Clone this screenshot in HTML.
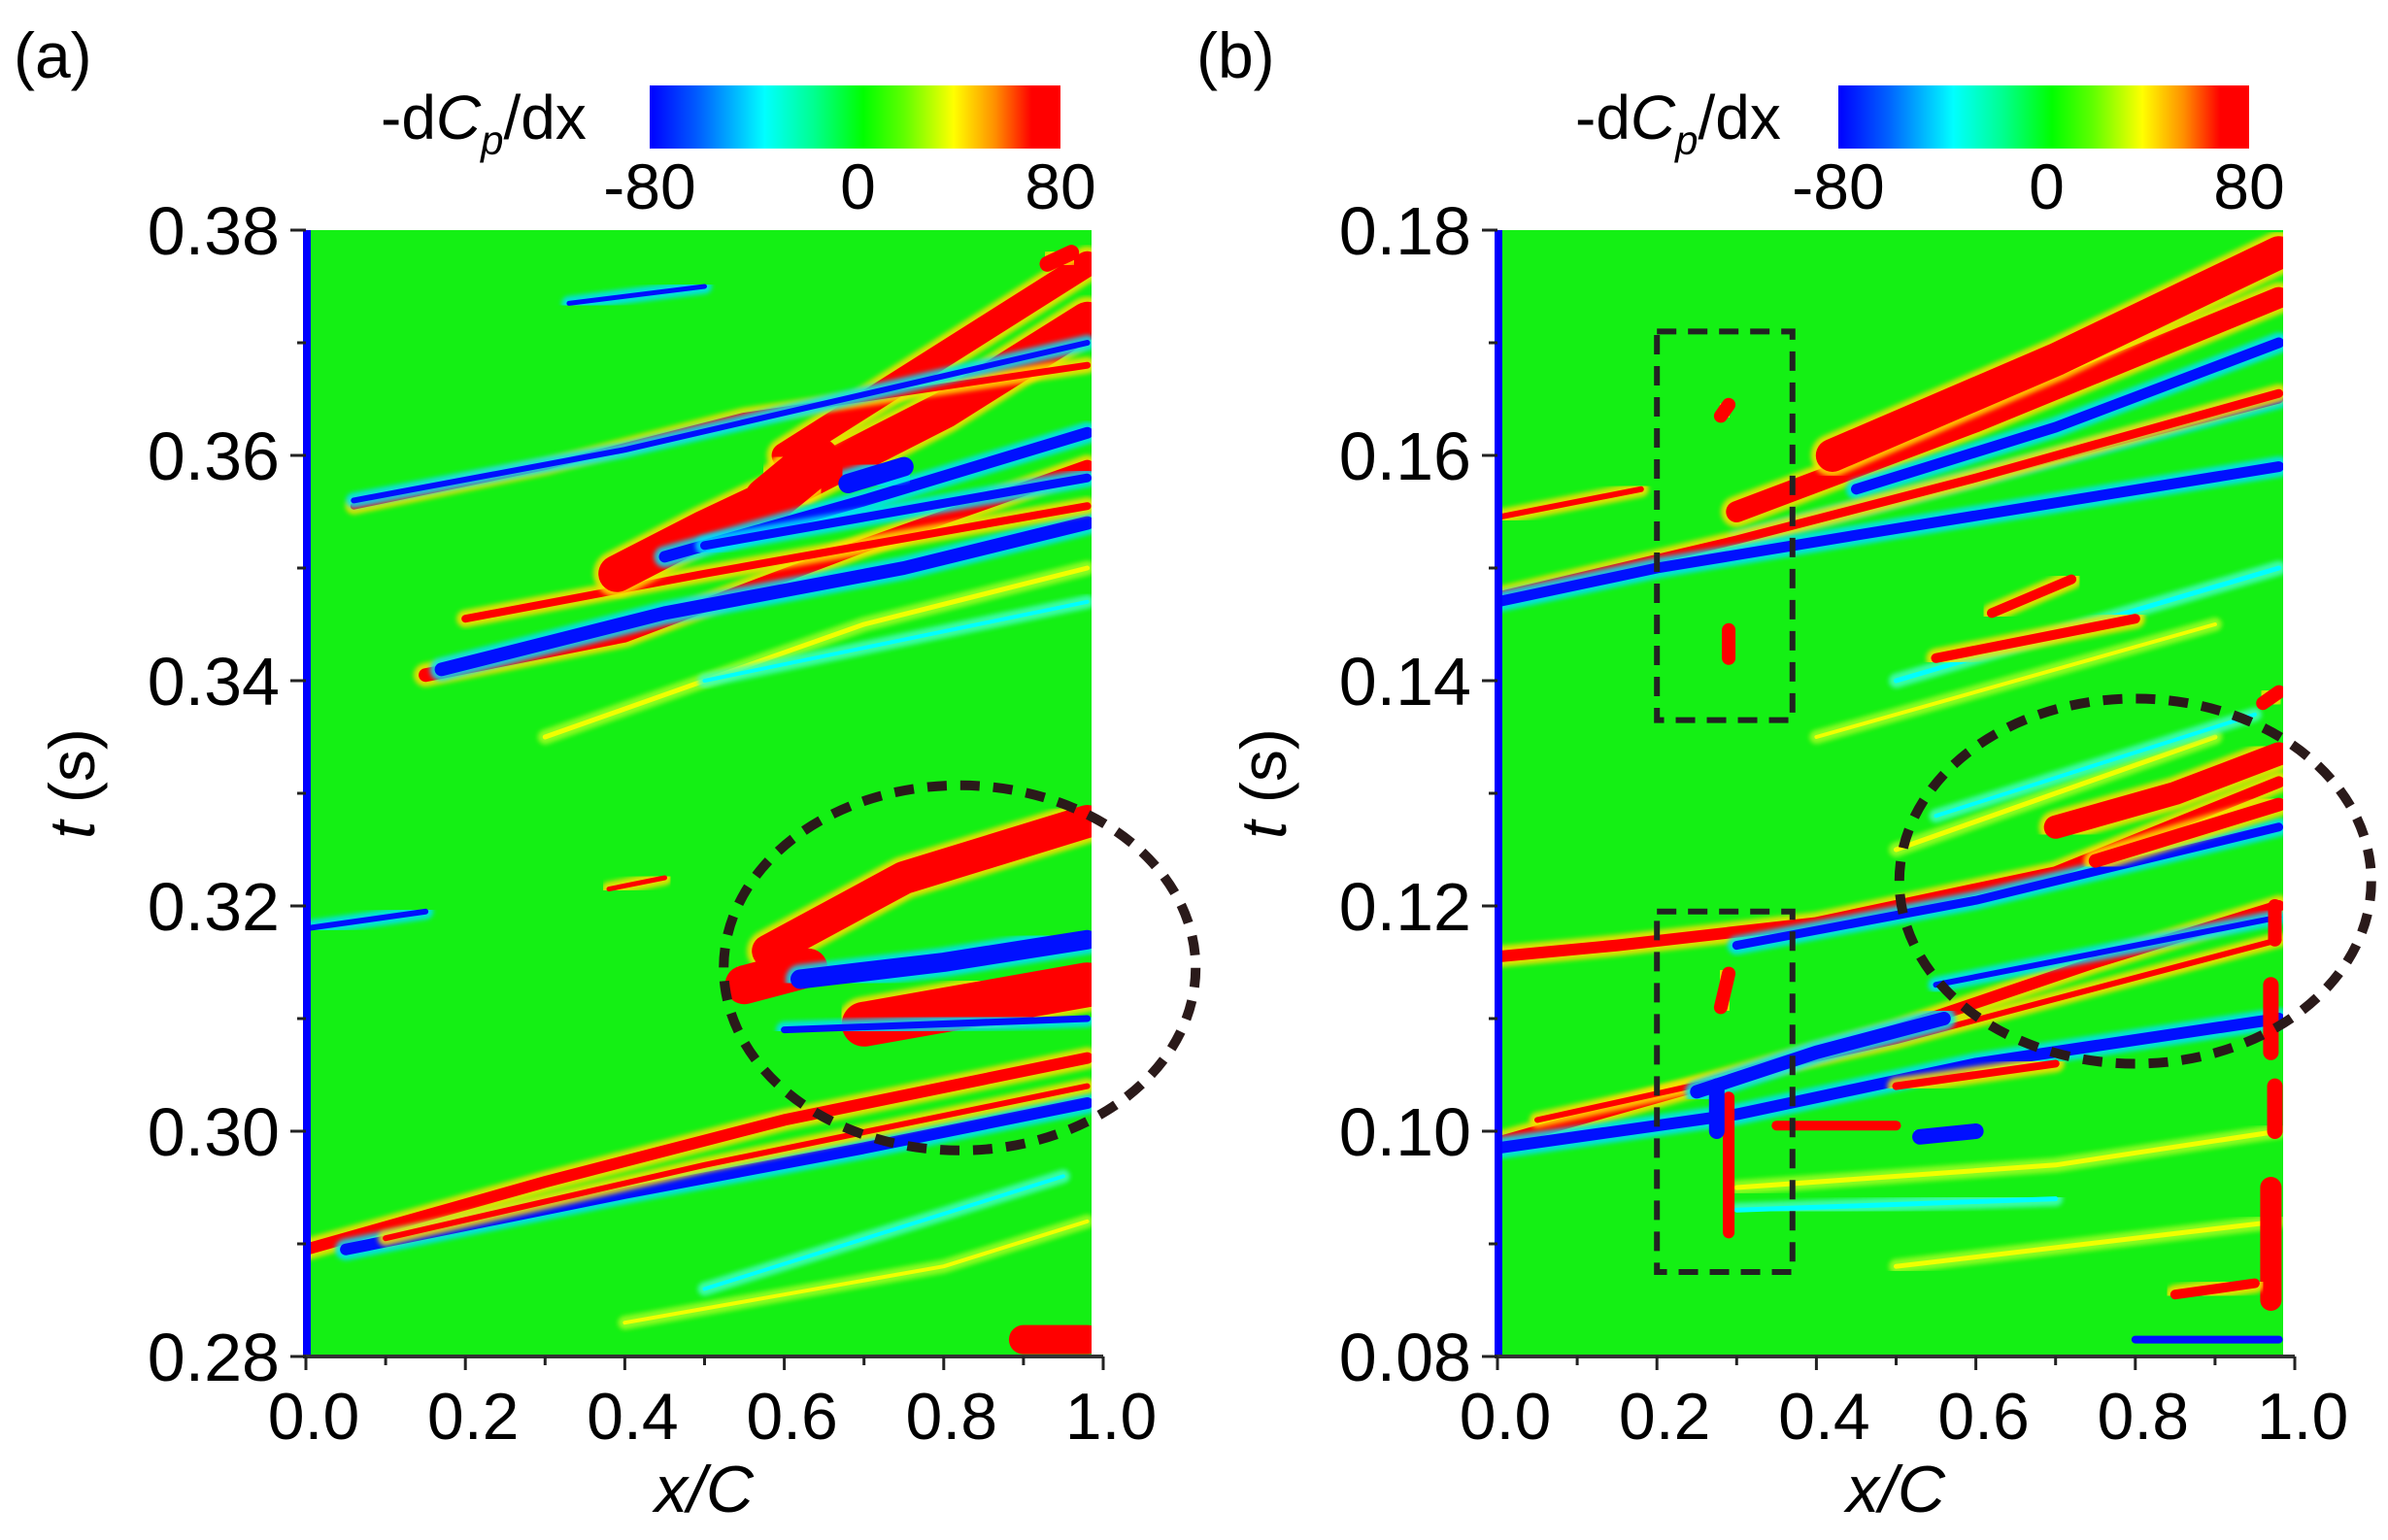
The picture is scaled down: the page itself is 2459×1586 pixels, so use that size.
<!DOCTYPE html>
<html><head><meta charset="utf-8"><style>
html,body{margin:0;padding:0;background:#fff;}
svg{display:block;}
text{font-family:"Liberation Sans",sans-serif;fill:#000;}
</style></head><body>
<svg id="fig" width="2459" height="1586" viewBox="0 0 2459 1586" xmlns="http://www.w3.org/2000/svg">
<defs>
<linearGradient id="cmap" x1="0" x2="1" y1="0" y2="0">
<stop offset="0" stop-color="#0000ff"/><stop offset="0.12" stop-color="#0060ff"/>
<stop offset="0.28" stop-color="#00ffff"/><stop offset="0.4" stop-color="#00ff90"/>
<stop offset="0.52" stop-color="#00ff00"/><stop offset="0.62" stop-color="#60ff00"/>
<stop offset="0.74" stop-color="#ffff00"/><stop offset="0.84" stop-color="#ff9000"/>
<stop offset="0.93" stop-color="#ff0000"/><stop offset="1" stop-color="#ff0000"/>
</linearGradient>
<clipPath id="clipA"><rect x="320" y="237" width="804" height="1160"/></clipPath>
<clipPath id="clipB"><rect x="1547" y="237" width="804" height="1160"/></clipPath>
<filter id="soft"><feGaussianBlur stdDeviation="2.5"/></filter>
</defs>
<g id="root"></g>
</svg>
<script>
// ---- data ----
const xTicks = [0.0, 0.2, 0.4, 0.6, 0.8, 1.0];
const xTickLabels = ["0.0", "0.2", "0.4", "0.6", "0.8", "1.0"];
const tTicksA = [0.28, 0.30, 0.32, 0.34, 0.36, 0.38];
const tTicksB = [0.08, 0.10, 0.12, 0.14, 0.16, 0.18];
const cbarTicks = [-80, 0, 80];
// streaks: [color, widthPx, points [x/C, t]]
const streaksA = [
 ["y",5,[[0.3,0.335],[0.7,0.345],[0.98,0.35]]],
 ["c",4,[[0.5,0.340],[0.98,0.347]]],
 ["y",4,[[0.4,0.283],[0.8,0.288],[0.98,0.292]]],
 ["c",4,[[0.5,0.286],[0.95,0.296]]],
 ["r",14,[[0.15,0.3405],[0.4,0.344],[0.7,0.352],[0.98,0.359]]],
 ["b",14,[[0.17,0.341],[0.45,0.346],[0.75,0.350],[0.98,0.354]]],
 ["r",8,[[0.2,0.3455],[0.5,0.3495],[0.98,0.3555]]],
 ["r",38,[[0.39,0.3495],[0.5,0.3535],[0.62,0.3575],[0.8,0.364],[0.98,0.372]]],
 ["r",26,[[0.6,0.36],[0.98,0.377]]],
 ["r",50,[[0.58,0.356],[0.64,0.3595]]],
 ["b",12,[[0.45,0.351],[0.7,0.356],[0.98,0.362]]],
 ["b",20,[[0.68,0.3575],[0.75,0.359]]],
 ["b",9,[[0.5,0.352],[0.98,0.358]]],
 ["r",7,[[0.06,0.3555],[0.3,0.359],[0.55,0.3635],[0.98,0.368]]],
 ["b",6,[[0.06,0.356],[0.4,0.3605],[0.98,0.370]]],
 ["b",5,[[0.33,0.3735],[0.5,0.375]]],
 ["r",16,[[0.93,0.377],[0.96,0.378]]],
 ["b",6,[[0.0,0.318],[0.15,0.3195]]],
 ["r",5,[[0.38,0.3215],[0.45,0.3225]]],
 ["r",12,[[0.0,0.2895],[0.3,0.2955],[0.6,0.301],[0.98,0.3065]]],
 ["b",12,[[0.05,0.2895],[0.4,0.2945],[0.7,0.2985],[0.98,0.3025]]],
 ["r",6,[[0.1,0.2905],[0.5,0.297],[0.98,0.304]]],
 ["r",46,[[0.7,0.3095],[0.98,0.313]]],
 ["r",34,[[0.58,0.316],[0.75,0.3225],[0.98,0.3275]]],
 ["r",40,[[0.55,0.313],[0.63,0.3145]]],
 ["b",20,[[0.62,0.3135],[0.8,0.315],[0.98,0.317]]],
 ["b",7,[[0.6,0.309],[0.98,0.310]]],
 ["r",30,[[0.9,0.2815],[0.98,0.2815]]]
];
const streaksB = [
 ["y",5,[[0.3,0.095],[0.7,0.097],[0.98,0.1]]],
 ["c",5,[[0.3,0.093],[0.7,0.094]]],
 ["y",5,[[0.5,0.125],[0.9,0.135]]],
 ["c",4,[[0.55,0.128],[0.95,0.137]]],
 ["y",4,[[0.4,0.135],[0.9,0.145]]],
 ["c",5,[[0.5,0.14],[0.98,0.150]]],
 ["y",5,[[0.5,0.088],[0.98,0.092]]],
 ["r",22,[[0.3,0.155],[0.6,0.163],[0.98,0.174]]],
 ["r",34,[[0.42,0.160],[0.7,0.1685],[0.98,0.178]]],
 ["b",11,[[0.45,0.157],[0.7,0.1625],[0.98,0.170]]],
 ["b",9,[[0.3,0.1525],[0.98,0.165]]],
 ["r",9,[[0.0,0.1475],[0.3,0.1525],[0.6,0.158],[0.98,0.1655]]],
 ["b",11,[[0.0,0.147],[0.2,0.150],[0.5,0.1535],[0.98,0.159]]],
 ["r",6,[[0.0,0.1545],[0.18,0.157]]],
 ["r",14,[[0.28,0.1635],[0.29,0.1645]]],
 ["r",14,[[0.29,0.142],[0.29,0.1445]]],
 ["r",10,[[0.62,0.146],[0.72,0.149]]],
 ["r",10,[[0.55,0.142],[0.8,0.1455]]],
 ["r",14,[[0.96,0.138],[0.98,0.139]]],
 ["r",12,[[0.0,0.099],[0.25,0.104],[0.5,0.109],[0.75,0.115],[0.98,0.120]]],
 ["b",12,[[0.0,0.0985],[0.3,0.1015],[0.6,0.106],[0.98,0.110]]],
 ["r",6,[[0.05,0.101],[0.5,0.108],[0.98,0.117]]],
 ["r",12,[[0.0,0.1155],[0.15,0.1165],[0.4,0.1185],[0.7,0.123],[0.98,0.131]]],
 ["b",9,[[0.3,0.1165],[0.6,0.1205],[0.98,0.127]]],
 ["r",24,[[0.7,0.127],[0.85,0.130],[0.98,0.1335]]],
 ["r",14,[[0.75,0.124],[0.98,0.129]]],
 ["b",14,[[0.25,0.1035],[0.4,0.107],[0.56,0.110]]],
 ["r",10,[[0.35,0.1005],[0.5,0.1005]]],
 ["b",16,[[0.53,0.0995],[0.6,0.1]]],
 ["r",8,[[0.5,0.104],[0.7,0.106]]],
 ["b",6,[[0.55,0.113],[0.98,0.119]]],
 ["r",12,[[0.29,0.091],[0.29,0.103]]],
 ["r",14,[[0.28,0.111],[0.29,0.114]]],
 ["b",16,[[0.275,0.100],[0.275,0.104]]],
 ["r",22,[[0.97,0.085],[0.97,0.095]]],
 ["r",16,[[0.975,0.10],[0.975,0.104]]],
 ["r",16,[[0.97,0.107],[0.97,0.113]]],
 ["r",14,[[0.975,0.117],[0.975,0.12]]],
 ["b",8,[[0.8,0.0815],[0.98,0.0815]]],
 ["r",10,[[0.85,0.0855],[0.95,0.0865]]]
];
// ---- drawing ----
const NS="http://www.w3.org/2000/svg";
const root=document.getElementById('root');
function mk(tag,attrs,parent){const e=document.createElementNS(NS,tag);for(const k in attrs)e.setAttribute(k,attrs[k]);(parent||root).appendChild(e);return e;}
const COL={r:['#ff0000','#ffe000'],b:['#0010ff','#00e0ff'],y:['#f0ff00','#a0ff20'],c:['#00ffff','#40ffc0']};
const Y0=1397,Y1=237,XW=821;
function panel(px0,tMin,tMax,ticks,streaks,clip,label,lx,cbx,cbLabelX,pname){
 const X=v=>px0+v*XW;
 const Y=t=>Y0+(t-tMin)/(tMax-tMin)*(Y1-Y0);
 const g=mk('g',{});
 
 
 const bg=mk('rect',{x:px0,y:Y1,width:809,height:Y0-Y1,fill:'#14f014'},g);
 
 
 const hg=mk('g',{'clip-path':'url(#'+clip+')'},g);
 
 
 streaks.forEach(s=>{
  const pts=s[2].map(p=>X(p[0]).toFixed(1)+','+Y(p[1]).toFixed(1)).join(' ');
  const c=COL[s[0]];
  const halo=mk('polyline',{points:pts,fill:'none',stroke:c[1],'stroke-width':s[1]+10,'stroke-linecap':'round','stroke-linejoin':'round',opacity:0.85,filter:'url(#soft)'},hg);
  
  
  const l=mk('polyline',{points:pts,fill:'none',stroke:c[0],'stroke-width':s[1],'stroke-linecap':'round','stroke-linejoin':'round'},hg);
  
  
 });
 const le=mk('rect',{x:px0-3,y:Y1,width:8,height:Y0-Y1,fill:'#0000ff'},g);
 
 
 const xa=mk('line',{x1:px0-3,x2:X(1),y1:Y0,y2:Y0,stroke:'#333',"stroke-width":4},g);
 
 
 for(let i=0;i<=10;i++){const v=i/10;const tk=mk('line',{x1:X(v),x2:X(v),y1:Y0,y2:Y0+(i%2?9:14),stroke:'#222','stroke-width':3},g);
  }
 xTicks.forEach((v,i)=>{const t=mk('text',{x:X(v)+8,y:1482,'font-size':68,'text-anchor':'middle'},g);t.textContent=xTickLabels[i];
  });
 ticks.forEach((v,i)=>{
  const tk=mk('line',{x1:px0-16,x2:px0,y1:Y(v),y2:Y(v),stroke:'#222','stroke-width':3},g);
  
  if(i<ticks.length-1){const m=mk('line',{x1:px0-9,x2:px0,y1:Y(v+0.01),y2:Y(v+0.01),stroke:'#222','stroke-width':3},g);
   }
  const t=mk('text',{x:px0-27,y:Y(v)+25,'font-size':70,'text-anchor':'end'},g);t.textContent=v.toFixed(2);
  
 });
 const xt=mk('text',{x:px0+410,y:1557,'font-size':68,'text-anchor':'middle','font-style':'italic'},g);xt.textContent='x/C';
 
 const yt=mk('text',{x:0,y:0,'font-size':66,'text-anchor':'middle',transform:'translate('+(px0-218)+',807) rotate(-90)'},g);
 yt.innerHTML='<tspan font-style="italic">t</tspan> (s)';
 
 const pl=mk('text',{x:lx,y:80,'font-size':66},g);pl.textContent=label;
 
 const cb=mk('rect',{x:cbx,y:88,width:423,height:65,fill:'url(#cmap)'},g);
 
 const ct=mk('text',{x:cbLabelX,y:143,'font-size':64},g);
 ct.innerHTML='-d<tspan font-style="italic">C</tspan><tspan font-style="italic" font-size="42" dy="16">p</tspan><tspan dy="-16">/dx</tspan>';
 
 cbarTicks.forEach(v=>{const t=mk('text',{x:cbx+(v+80)/160*423+(v===0?3:0),y:215,'font-size':66,'text-anchor':'middle'},g);t.textContent=String(v);
  });
 return {X,Y,g};
}
const A=panel(315,0.28,0.38,tTicksA,streaksA,'clipA','(a)',14,669,392,'panel-a');
const B=panel(1542,0.08,0.18,tTicksB,streaksB,'clipB','(b)',1232,1893,1622,'panel-b');
const e1=mk('ellipse',{cx:A.X(0.82),cy:A.Y(0.3145),rx:243,ry:188,fill:'none',stroke:'#2a1a1a','stroke-width':10,'stroke-dasharray':'20 14'});


const e2=mk('ellipse',{cx:B.X(0.80),cy:B.Y(0.1222),rx:243,ry:188,fill:'none',stroke:'#2a1a1a','stroke-width':10,'stroke-dasharray':'20 14'});


const r1=mk('rect',{x:B.X(0.2),y:B.Y(0.171),width:B.X(0.37)-B.X(0.2),height:B.Y(0.1365)-B.Y(0.171),fill:'none',stroke:'#222','stroke-width':6,'stroke-dasharray':'20 12'});


const r2=mk('rect',{x:B.X(0.2),y:B.Y(0.1195),width:B.X(0.37)-B.X(0.2),height:B.Y(0.0875)-B.Y(0.1195),fill:'none',stroke:'#222','stroke-width':6,'stroke-dasharray':'20 12'});


</script>
</body></html>
